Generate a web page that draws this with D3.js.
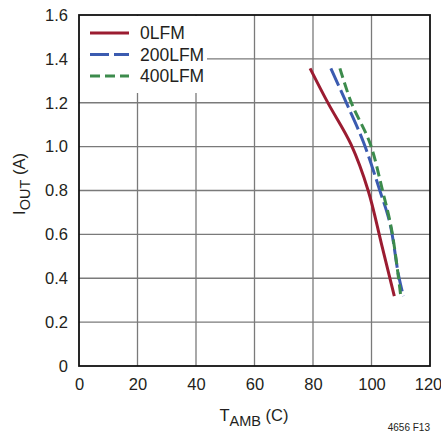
<!DOCTYPE html>
<html>
<head>
<meta charset="utf-8">
<script src="https://cdn.jsdelivr.net/npm/d3@7"></script>
<style>
  body { margin: 0; background: #fff; }
  text { font-family: "Liberation Sans", Arial, sans-serif; fill: #231f20; }
</style>
</head>
<body>
<svg id="chart" width="441" height="437"></svg>
<script>
// data (T in C, Iout in A)
var lfm0 = [
  [79.0, 1.357], [85.2, 1.197], [93.0, 1.010], [98.9, 0.798],
  [103.4, 0.557], [107.8, 0.319]
];
var lfm200 = [
  [86.1, 1.357], [91.5, 1.197], [97.2, 1.022], [102.9, 0.798], [106.3, 0.650],
  [109.3, 0.410], [110.9, 0.319]
];
var lfm400 = [
  [89.2, 1.357], [93.2, 1.197], [99.5, 1.015], [103.8, 0.798], [106.9, 0.620],
  [110.0, 0.319]
];
var seriesNames = ["0LFM", "200LFM", "400LFM"];
var xTicks = [0, 20, 40, 60, 80, 100, 120];
var yTicks = [0, 0.2, 0.4, 0.6, 0.8, 1.0, 1.2, 1.4, 1.6];

var m = { left: 79, right: 11, top: 15, bottom: 71 };
var W = 441, H = 437;
var w = W - m.left - m.right;
var h = H - m.top - m.bottom;

var svg = d3.select("#chart");
var g = svg.append("g").attr("transform", "translate(" + m.left + "," + m.top + ")");

var x = d3.scaleLinear().domain([0, 120]).range([0, w]);
var y = d3.scaleLinear().domain([0, 1.6]).range([h, 0]);

// grid
g.append("g").selectAll("line").data(xTicks.slice(1, -1)).enter().append("line")
  .attr("x1", function (d) { return x(d); }).attr("x2", function (d) { return x(d); })
  .attr("y1", 0).attr("y2", h)
  .style("stroke", "#7a7a7a").style("stroke-width", 1.3);
g.append("g").selectAll("line").data(yTicks.slice(1, -1)).enter().append("line")
  .attr("x1", 0).attr("x2", w)
  .attr("y1", function (d) { return y(d); }).attr("y2", function (d) { return y(d); })
  .style("stroke", "#7a7a7a").style("stroke-width", 1.3);

// legend background hides grid
g.append("rect").attr("x", 1).attr("y", 1).attr("width", 127).attr("height", 77).attr("fill", "#fff");

// axes (labels only)
var xAxis = d3.axisBottom(x).tickValues(xTicks).tickSize(0).tickPadding(9)
  .tickFormat(d3.format("d"));
var yAxis = d3.axisLeft(y).tickValues(yTicks).tickSize(0).tickPadding(11)
  .tickFormat(function (d) { return d === 0 ? "0" : d3.format(".1f")(d); });

var gX = g.append("g").attr("transform", "translate(0," + h + ")").call(xAxis);
var gY = g.append("g").call(yAxis);
[gX, gY].forEach(function (a) {
  a.select(".domain").remove();
  a.selectAll("text").style("font-size", "16.5px")
    .style("font-family", "'Liberation Sans', Arial, sans-serif").style("fill", "#231f20");
});
gX.selectAll("text").attr("dy", "0.9em")
  .attr("x", function (d) { return d === 120 ? -2 : 0; });

// frame
g.append("rect").attr("width", w).attr("height", h)
  .attr("fill", "none").style("stroke", "#111").style("stroke-width", 1.8);

// curves
var line = d3.line()
  .x(function (d) { return x(d[0]); })
  .y(function (d) { return y(d[1]); })
  .curve(d3.curveCatmullRom);

var styles = [
  { color: "#9b1c31", dash: null },
  { color: "#3b5bb0", dash: "19,5" },
  { color: "#3c8b4c", dash: "10,5" }
];
[lfm0, lfm200, lfm400].forEach(function (s, i) {
  g.append("path").attr("d", line(s))
    .style("fill", "none").style("stroke", styles[i].color).style("stroke-width", 3)
    .style("stroke-dasharray", styles[i].dash);
});

// legend
var leg = g.append("g").attr("transform", "translate(11,18)");
seriesNames.forEach(function (n, i) {
  var ly = i * 21.5;
  leg.append("line").attr("x1", 0).attr("x2", 39).attr("y1", ly).attr("y2", ly)
    .style("stroke", styles[i].color).style("stroke-width", 3)
    .style("stroke-dasharray", styles[i].dash);
  leg.append("text").attr("x", 50).attr("y", ly).attr("dy", "0.36em")
    .style("font-size", "17.5px").text(n);
});

// axis titles
var yt = svg.append("text").attr("transform", "translate(25,184) rotate(-90)")
  .attr("text-anchor", "middle").style("font-size", "16.5px");
yt.append("tspan").text("I");
yt.append("tspan").attr("dy", 5).style("font-size", "14.5px").text("OUT");
yt.append("tspan").attr("dy", -5).text(" (A)");

var xt = svg.append("text").attr("x", 254).attr("y", 421)
  .attr("text-anchor", "middle").style("font-size", "16.5px");
xt.append("tspan").text("T");
xt.append("tspan").attr("dy", 5).style("font-size", "14.5px").text("AMB");
xt.append("tspan").attr("dy", -5).text(" (C)");

svg.append("text").attr("x", 430).attr("y", 431).attr("text-anchor", "end")
  .style("font-size", "10px").text("4656 F13");
</script>
</body>
</html>
